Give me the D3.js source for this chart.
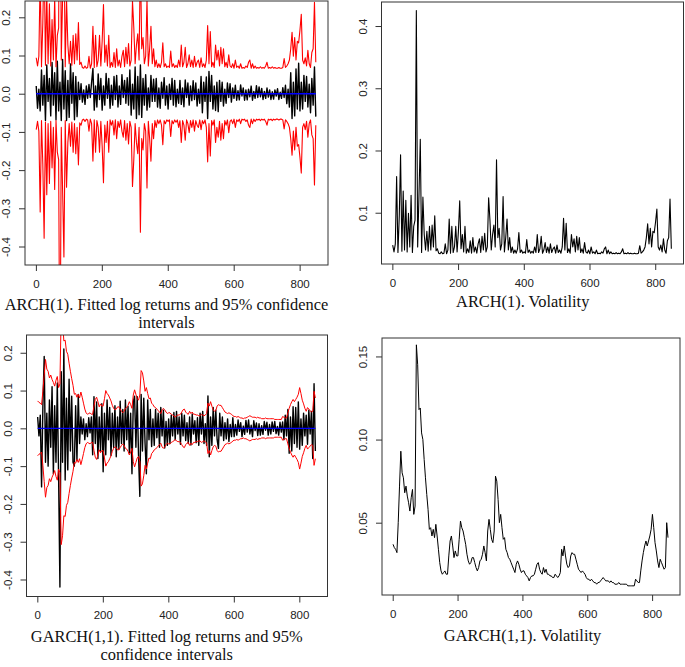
<!DOCTYPE html>
<html><head><meta charset="utf-8">
<script src="https://cdn.jsdelivr.net/npm/d3@7"></script>
<style>body{margin:0;background:#fff} svg{display:block}</style>
</head><body>
<svg id="c" width="685" height="667"></svg>
<script>
// ---------------- data ----------------
const N = 852;          // length of the time series
const STEP = 4;         // array element i is observation t = 1 + STEP*i
const Z95 = 1.96;       // 95% band = +/- 1.96 * conditional volatility
const xTicks = [0, 200, 400, 600, 800];
const retTicks = [-0.4, -0.3, -0.2, -0.1, 0.0, 0.1, 0.2];
const retTickLabels = ["-0.4", "-0.3", "-0.2", "-0.1", "0.0", "0.1", "0.2"];
const archVolTicks = [0.1, 0.2, 0.3, 0.4];
const archVolTickLabels = ["0.1", "0.2", "0.3", "0.4"];
const garchVolTicks = [0.05, 0.10, 0.15];
const garchVolTickLabels = ["0.05", "0.10", "0.15"];
const fittedMean = 0.0;

const archRet = [
0.020,-0.038,0.012,-0.045,0.062,-0.030,0.048,-0.070,0.075,-0.020,
0.040,-0.058,0.082,-0.030,0.055,-0.068,0.085,-0.045,0.030,-0.070,
0.090,-0.040,0.060,-0.070,0.035,-0.062,0.078,-0.025,0.055,-0.068,
0.045,-0.060,0.030,-0.015,0.026,-0.022,0.010,-0.028,0.020,-0.012,
0.024,-0.010,0.030,0.066,-0.043,0.020,-0.035,0.052,-0.015,0.040,
-0.043,0.020,-0.030,0.053,-0.012,0.040,-0.038,0.022,-0.030,0.045,
-0.015,0.048,-0.035,0.020,-0.028,0.050,-0.010,0.035,-0.025,0.042,
-0.030,0.062,-0.056,0.025,-0.040,0.070,-0.065,0.045,-0.055,0.075,
-0.062,0.040,-0.030,0.050,-0.043,0.015,-0.035,0.048,-0.020,0.038,
-0.020,0.040,-0.035,0.015,-0.038,0.030,-0.012,0.042,-0.030,0.020,
-0.040,0.025,-0.015,0.040,-0.030,0.035,-0.034,0.012,-0.025,0.035,
-0.028,0.015,-0.034,0.036,-0.010,0.028,-0.030,0.020,-0.018,0.034,
-0.015,0.028,-0.032,0.012,-0.025,0.045,-0.050,0.030,-0.020,0.044,
-0.065,0.058,-0.020,0.048,-0.040,0.020,-0.044,0.030,-0.047,0.035,
-0.020,0.030,-0.032,0.012,-0.025,0.028,-0.010,0.026,-0.022,0.015,
-0.012,0.022,-0.017,0.008,-0.016,0.023,-0.006,0.015,-0.017,0.010,
-0.016,0.012,-0.008,0.020,-0.017,0.006,-0.012,0.021,-0.010,0.018,
-0.008,0.014,-0.015,0.006,-0.012,0.015,-0.009,0.010,-0.015,0.005,
-0.014,0.010,-0.006,0.013,-0.015,0.004,-0.012,0.016,-0.010,0.022,
-0.026,0.012,-0.035,0.055,-0.065,0.030,-0.058,0.065,-0.040,0.080,
-0.045,0.030,-0.040,0.048,-0.020,0.045,-0.035,0.025,-0.050,0.040,
-0.030,0.070,-0.060];

const archVol = [
0.048,0.037,0.050,0.158,0.036,0.094,0.193,0.038,0.135,0.040,
0.120,0.037,0.099,0.045,0.128,0.036,0.078,0.088,0.425,0.045,
0.128,0.218,0.036,0.125,0.065,0.040,0.070,0.038,0.078,0.040,
0.080,0.045,0.095,0.039,0.042,0.035,0.034,0.037,0.034,0.035,
0.050,0.034,0.040,0.090,0.035,0.078,0.036,0.045,0.078,0.037,
0.070,0.119,0.042,0.065,0.037,0.078,0.035,0.042,0.036,0.055,
0.035,0.060,0.037,0.045,0.035,0.050,0.058,0.036,0.062,0.040,
0.067,0.037,0.045,0.124,0.088,0.040,0.065,0.080,0.045,0.185,
0.060,0.075,0.040,0.050,0.126,0.037,0.060,0.090,0.040,0.060,
0.036,0.045,0.035,0.040,0.035,0.042,0.068,0.036,0.040,0.035,
0.037,0.035,0.057,0.036,0.040,0.035,0.038,0.035,0.045,0.036,
0.065,0.036,0.042,0.062,0.035,0.040,0.052,0.036,0.045,0.035,
0.050,0.036,0.042,0.045,0.035,0.048,0.036,0.040,0.035,0.045,
0.091,0.040,0.083,0.036,0.042,0.035,0.065,0.045,0.058,0.037,
0.062,0.040,0.060,0.036,0.042,0.035,0.052,0.037,0.035,0.040,
0.034,0.045,0.035,0.037,0.034,0.040,0.034,0.035,0.034,0.037,
0.035,0.042,0.045,0.034,0.040,0.034,0.037,0.034,0.035,0.034,
0.036,0.034,0.035,0.034,0.037,0.042,0.034,0.035,0.034,0.036,
0.034,0.035,0.034,0.034,0.035,0.034,0.034,0.035,0.047,0.035,
0.037,0.040,0.045,0.060,0.082,0.050,0.075,0.045,0.070,0.068,
0.085,0.106,0.045,0.040,0.048,0.037,0.058,0.040,0.035,0.055,
0.060,0.122,0.042];

const garchRet = [
0.030,-0.020,0.035,-0.155,0.060,0.190,-0.090,0.040,-0.100,0.075,
-0.050,0.110,-0.120,0.060,-0.090,0.120,-0.128,-0.420,0.150,-0.090,
0.210,-0.137,0.080,-0.110,0.130,-0.060,0.085,-0.090,-0.100,0.060,
-0.085,0.090,-0.040,0.030,-0.015,0.025,-0.030,0.012,-0.022,0.028,
-0.012,0.030,-0.070,0.084,-0.040,0.070,-0.080,0.030,-0.060,0.065,
-0.115,0.040,-0.070,0.075,-0.030,0.055,-0.072,0.040,-0.050,0.060,
-0.075,0.030,-0.055,0.072,-0.040,0.050,-0.060,0.075,-0.030,0.058,
-0.065,0.040,-0.120,0.070,0.085,-0.050,0.084,-0.070,-0.180,0.090,
-0.060,0.080,-0.040,-0.120,0.075,-0.030,0.050,-0.048,0.025,-0.045,
0.050,-0.025,0.040,-0.050,0.055,-0.020,0.048,-0.052,0.018,-0.045,
0.025,-0.040,0.035,-0.020,0.042,-0.030,0.045,-0.015,0.030,-0.042,
0.040,-0.020,0.035,-0.032,0.015,-0.040,0.030,-0.044,0.038,-0.015,
0.020,-0.038,0.028,-0.045,0.040,-0.015,0.045,-0.040,0.012,-0.045,
0.086,-0.075,0.030,-0.045,0.055,-0.020,0.048,-0.030,-0.053,0.040,
-0.020,0.030,-0.032,0.015,-0.028,0.025,-0.035,0.010,-0.022,0.028,
-0.022,0.010,-0.018,0.022,-0.008,0.015,-0.022,0.006,-0.016,0.021,
-0.010,0.022,-0.015,0.008,-0.022,0.020,-0.006,0.014,-0.019,0.012,
-0.018,0.007,-0.016,0.018,-0.005,0.016,-0.018,0.010,-0.015,0.017,
-0.008,0.018,-0.014,0.005,-0.018,0.016,-0.010,0.017,-0.030,0.035,
-0.020,0.050,-0.066,0.030,-0.060,0.057,-0.040,0.055,-0.050,0.070,
-0.055,0.025,-0.045,0.040,-0.020,0.035,-0.042,0.048,-0.015,0.045,
-0.080,0.118,-0.060];

const garchVol = [
0.037,0.035,0.034,0.032,0.050,0.072,0.093,0.080,0.077,0.068,
0.072,0.066,0.062,0.057,0.065,0.070,0.055,0.060,0.157,0.145,
0.118,0.119,0.104,0.100,0.088,0.077,0.067,0.058,0.046,0.047,
0.042,0.046,0.041,0.049,0.042,0.034,0.026,0.021,0.019,0.020,
0.021,0.019,0.019,0.030,0.039,0.042,0.036,0.029,0.033,0.030,
0.030,0.040,0.051,0.047,0.045,0.041,0.037,0.031,0.027,0.025,
0.026,0.029,0.029,0.026,0.023,0.021,0.023,0.027,0.028,0.031,
0.036,0.032,0.027,0.045,0.052,0.046,0.040,0.038,0.045,0.078,
0.075,0.064,0.050,0.055,0.047,0.040,0.041,0.034,0.032,0.029,
0.028,0.026,0.024,0.022,0.020,0.025,0.027,0.025,0.022,0.020,
0.021,0.021,0.019,0.018,0.017,0.015,0.017,0.018,0.018,0.019,
0.022,0.025,0.026,0.022,0.020,0.019,0.023,0.020,0.022,0.019,
0.019,0.018,0.018,0.017,0.017,0.019,0.018,0.017,0.018,0.020,
0.034,0.030,0.036,0.030,0.025,0.023,0.024,0.030,0.032,0.031,
0.031,0.028,0.025,0.022,0.021,0.020,0.021,0.020,0.019,0.017,
0.016,0.016,0.015,0.016,0.015,0.014,0.014,0.013,0.014,0.014,
0.015,0.016,0.017,0.016,0.015,0.015,0.015,0.014,0.015,0.014,
0.014,0.013,0.013,0.013,0.014,0.013,0.013,0.013,0.013,0.013,
0.013,0.012,0.012,0.012,0.012,0.012,0.012,0.016,0.015,0.014,
0.014,0.021,0.027,0.032,0.036,0.039,0.036,0.039,0.042,0.046,
0.055,0.047,0.038,0.033,0.027,0.023,0.028,0.026,0.024,0.022,
0.023,0.050,0.041];

const titleArchFit = ["ARCH(1). Fitted log returns and 95% confidence", "intervals"];
const titleArchVol = ["ARCH(1). Volatility"];
const titleGarchFit = ["GARCH(1,1). Fitted log returns and 95%", "confidence intervals"];
const titleGarchVol = ["GARCH(1,1). Volatility"];

// ---------------- drawing ----------------
const svg = d3.select("#c");
const xDomain = [1 - 0.04 * (N - 1), N + 0.04 * (N - 1)];
const SANS = "'Liberation Sans', Arial, Helvetica, sans-serif";
const SERIF = "'Liberation Serif', 'Times New Roman', Times, serif";

function panel(cfg) {
  const b = cfg.box;
  const x = d3.scaleLinear().domain(xDomain).range([b.l, b.r]);
  const y = d3.scaleLinear().domain(cfg.yDomain).range([b.b, b.t]);
  const g = svg.append("g");
  const clipId = "clip" + cfg.id;
  svg.append("clipPath").attr("id", clipId).append("rect")
    .attr("x", b.l).attr("y", b.t).attr("width", b.r - b.l).attr("height", b.b - b.t);
  const plot = g.append("g").attr("clip-path", `url(#${clipId})`);
  cfg.series.forEach(s => {
    const line = d3.line().x((d, i) => x(1 + STEP * i)).y(d => y(s.map ? s.map(d) : d));
    plot.append("path").datum(s.values)
      .attr("fill", "none").attr("stroke", s.color).attr("stroke-width", s.width || 1)
      .attr("stroke-linejoin", "round").attr("d", line);
  });
  if (cfg.mean !== undefined) {
    const last = 1 + STEP * (cfg.series[0].values.length - 1);
    plot.append("path").datum([1, last])
      .attr("fill", "none").attr("stroke", "#0000ff").attr("stroke-width", 1.4)
      .attr("d", d3.line().x(d => x(d)).y(() => y(cfg.mean)));
  }
  // frame
  g.append("rect").attr("x", b.l).attr("y", b.t).attr("width", b.r - b.l).attr("height", b.b - b.t)
    .attr("fill", "none").attr("stroke", "#333").attr("stroke-width", 1);
  // x axis
  const xa = g.append("g").attr("transform", `translate(0,${b.b})`)
    .call(d3.axisBottom(x).tickValues(xTicks).tickSizeInner(6).tickSizeOuter(0).tickFormat(d3.format("d")));
  xa.select(".domain").remove();
  xa.attr("font-family", SANS).attr("font-size", 11.5);
  xa.selectAll(".tick line").attr("stroke", "#333");
  xa.selectAll(".tick text").attr("y", 18.5).attr("dy", null)
    .attr("dominant-baseline", "central").attr("fill", "#222");
  // y axis
  const ya = g.append("g").attr("transform", `translate(${b.l},0)`)
    .call(d3.axisLeft(y).tickValues(cfg.yTicks).tickSizeInner(6).tickSizeOuter(0)
      .tickFormat((d, i) => cfg.yTickLabels[i]));
  ya.select(".domain").remove();
  ya.attr("font-family", SANS).attr("font-size", 11.5);
  ya.selectAll(".tick line").attr("stroke", "#333");
  ya.selectAll(".tick text").attr("x", null).attr("dy", null)
    .attr("transform", "translate(-19,0) rotate(-90)")
    .attr("text-anchor", "middle").attr("dominant-baseline", "central").attr("fill", "#222");
  // title
  cfg.title.forEach((t, i) => {
    svg.append("text").attr("x", cfg.titleX).attr("y", cfg.titleY + i * 18)
      .attr("text-anchor", "middle").attr("font-family", SERIF).attr("font-size", 16.4)
      .attr("fill", "#111").text(t);
  });
}

panel({
  id: 1, box: {l: 25, r: 328, t: 1, b: 265}, yDomain: [-0.4484, 0.2427],
  yTicks: retTicks, yTickLabels: retTickLabels,
  series: [
    {values: archRet, color: "#000", width: 1.4},
    {values: archVol, color: "#ff0000", width: 1.1, map: v => Z95 * v},
    {values: archVol, color: "#ff0000", width: 1.1, map: v => -Z95 * v}
  ],
  mean: fittedMean,
  title: titleArchFit, titleX: 166.5, titleY: 310
});
panel({
  id: 2, box: {l: 381.5, r: 683.5, t: 2, b: 264}, yDomain: [0.0176, 0.4386],
  yTicks: archVolTicks, yTickLabels: archVolTickLabels,
  series: [{values: archVol, color: "#000", width: 1.1}],
  title: titleArchVol, titleX: 522.7, titleY: 306.5
});
panel({
  id: 3, box: {l: 26.5, r: 327.5, t: 335, b: 596.5}, yDomain: [-0.445, 0.247],
  yTicks: retTicks, yTickLabels: retTickLabels,
  series: [
    {values: garchRet, color: "#000", width: 1.4},
    {values: garchVol, color: "#ff0000", map: v => Z95 * v},
    {values: garchVol, color: "#ff0000", map: v => -Z95 * v}
  ],
  mean: fittedMean,
  title: titleGarchFit, titleX: 166.7, titleY: 642
});
panel({
  id: 4, box: {l: 382, r: 680, t: 338, b: 595}, yDomain: [0.0065, 0.1611],
  yTicks: garchVolTicks, yTickLabels: garchVolTickLabels,
  series: [{values: garchVol, color: "#000"}],
  title: titleGarchVol, titleX: 522.5, titleY: 640.5
});
</script>
</body></html>
